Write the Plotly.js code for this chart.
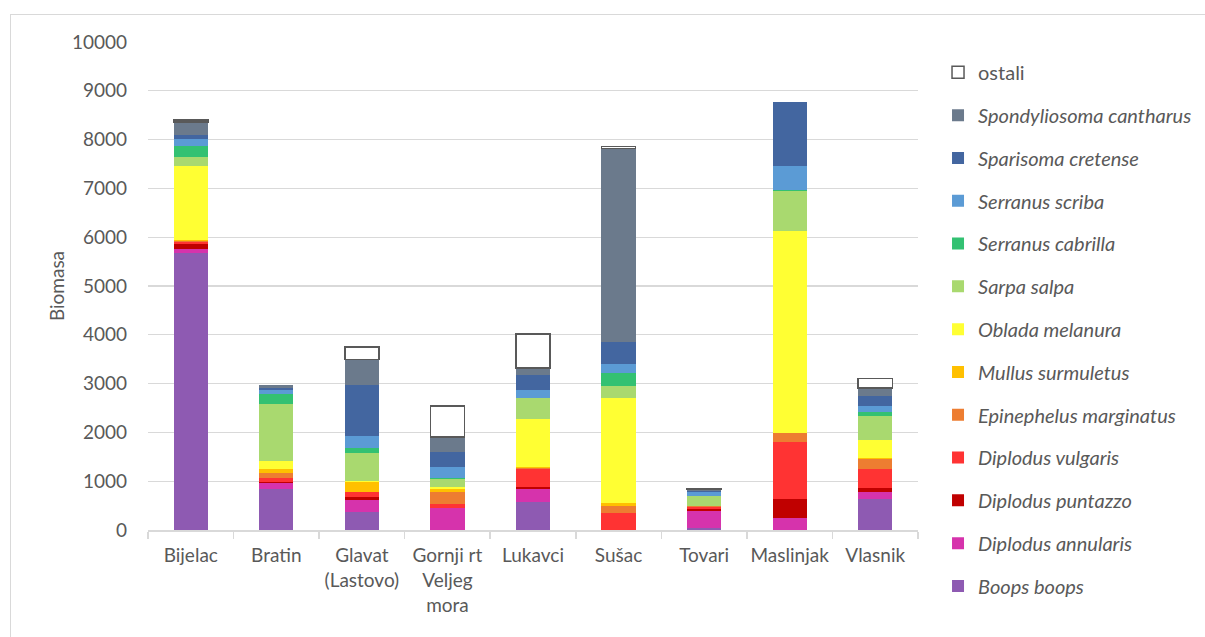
<!DOCTYPE html>
<html>
<head>
<meta charset="utf-8">
<script src="https://cdn.plot.ly/plotly-3.0.1.min.js"></script>
<style>
html,body{margin:0;padding:0;background:#fff;}
#frame{position:absolute;left:10px;top:14px;width:1200px;height:640px;border:1.5px solid #D9D9D9;box-sizing:border-box;}
#chart{position:absolute;left:0;top:0;width:1205px;height:637px;}
</style>
</head>
<body>
<div id="frame"></div>
<div id="chart"></div>
<script>
const categories = ["Bijelac", "Bratin", "Glavat<br>(Lastovo)", "Gornji rt<br>Veljeg<br>mora", "Lukavci", "Sušac", "Tovari", "Maslinjak", "Vlasnik"];

const boopsBoops            = [5685, 836, 377, 0, 581, 0, 48, 0, 627];
const diplodusAnnularis     = [82, 123, 240, 458, 267, 0, 349, 252, 143];
const diplodusPuntazzo      = [103, 20, 55, 0, 41, 0, 27, 375, 82];
const diplodusVulgaris      = [41, 96, 103, 75, 362, 356, 55, 1173, 395];
const epinephelusMarginatus = [15, 89, 14, 253, 14, 144, 5, 198, 205];
const mullusSurmuletus      = [15, 89, 190, 48, 34, 62, 5, 0, 27];
const obladaMelanura        = [1525, 151, 27, 55, 977, 2143, 5, 4138, 375];
const sarpaSalpa            = [171, 1171, 568, 157, 424, 253, 199, 804, 491];
const serranusCabrilla      = [226, 205, 103, 27, 0, 267, 14, 27, 75];
const serranusScriba        = [151, 96, 254, 226, 171, 178, 68, 491, 123];
const sparisomaCretense     = [82, 30, 1034, 301, 301, 459, 20, 1316, 198];
const spondyliosomaCantharus= [260, 70, 527, 307, 143, 3959, 34, 0, 171];
const ostali                = [48, 0, 260, 636, 697, 40, 7, 0, 197];

const seriesNames = ["Boops boops", "Diplodus annularis", "Diplodus puntazzo", "Diplodus vulgaris",
  "Epinephelus marginatus", "Mullus surmuletus", "Oblada melanura", "Sarpa salpa",
  "Serranus cabrilla", "Serranus scriba", "Sparisoma cretense", "Spondyliosoma cantharus", "ostali"];
const seriesValues = [boopsBoops, diplodusAnnularis, diplodusPuntazzo, diplodusVulgaris,
  epinephelusMarginatus, mullusSurmuletus, obladaMelanura, sarpaSalpa,
  serranusCabrilla, serranusScriba, sparisomaCretense, spondyliosomaCantharus, ostali];
const seriesColors = ["#8E5AB2", "#D633AC", "#C00000", "#FF3333", "#ED7D31", "#FFC000",
  "#FFFF33", "#A9D96F", "#33C172", "#5B9BD5", "#4366A0", "#6B7A8C", "#FFFFFF"];

const traces = seriesNames.map((n, i) => {
  const isOther = n === "ostali";
  return {
    type: "bar",
    x: categories,
    y: seriesValues[i],
    name: isOther ? n : "<i>" + n + "</i>",
    legendgroup: "g" + i,
    legendrank: 100 - i,
    marker: {
      color: seriesColors[i],
      line: isOther
        ? {color: seriesValues[i].map(v => v > 0 ? "#595959" : "rgba(0,0,0,0)"), width: 1.5}
        : {width: 0}
    },
    hoverinfo: "skip"
  };
});

const fontFam = "Lato, 'Liberation Sans', sans-serif";
const layout = {
  width: 1205, height: 637,
  barmode: "stack",
  bargap: 0.6,
  paper_bgcolor: "rgba(0,0,0,0)",
  plot_bgcolor: "rgba(0,0,0,0)",
  margin: {l: 148, r: 287, t: 42, b: 107, autoexpand: false},
  font: {family: fontFam, size: 19, color: "#595959"},
  showlegend: true,
  legend: {
    x: 1.026, xanchor: "left",
    yref: "container", y: 0.917, yanchor: "top",
    maxheight: 1,
    traceorder: "grouped",
    tracegroupgap: 13.8,
    font: {family: fontFam, size: 20, color: "#595959"},
    bgcolor: "rgba(0,0,0,0)"
  },
  xaxis: {
    showgrid: false,
    showline: true, linecolor: "#D9D9D9", linewidth: 1.5,
    ticks: "outside", tickson: "boundaries", ticklen: 7, tickcolor: "#D9D9D9", tickwidth: 1.5,
    tickangle: 0,
    ticklabelstandoff: 8,
    tickfont: {size: 19, color: "#595959"},
    automargin: false,
    fixedrange: true
  },
  yaxis: {
    range: [0, 10000],
    dtick: 1000,
    tickformat: "d",
    showgrid: true, gridcolor: "#D9D9D9", gridwidth: 1.2,
    zeroline: false,
    showline: false,
    ticks: "",
    ticklabelstandoff: 20,
    tickfont: {size: 19, color: "#595959"},
    title: {text: "Biomasa", font: {size: 19, color: "#595959"}, standoff: 2},
    automargin: false,
    fixedrange: true
  },
  hovermode: false
};

Plotly.newPlot("chart", traces, layout, {displayModeBar: false, staticPlot: true});
</script>
</body>
</html>
